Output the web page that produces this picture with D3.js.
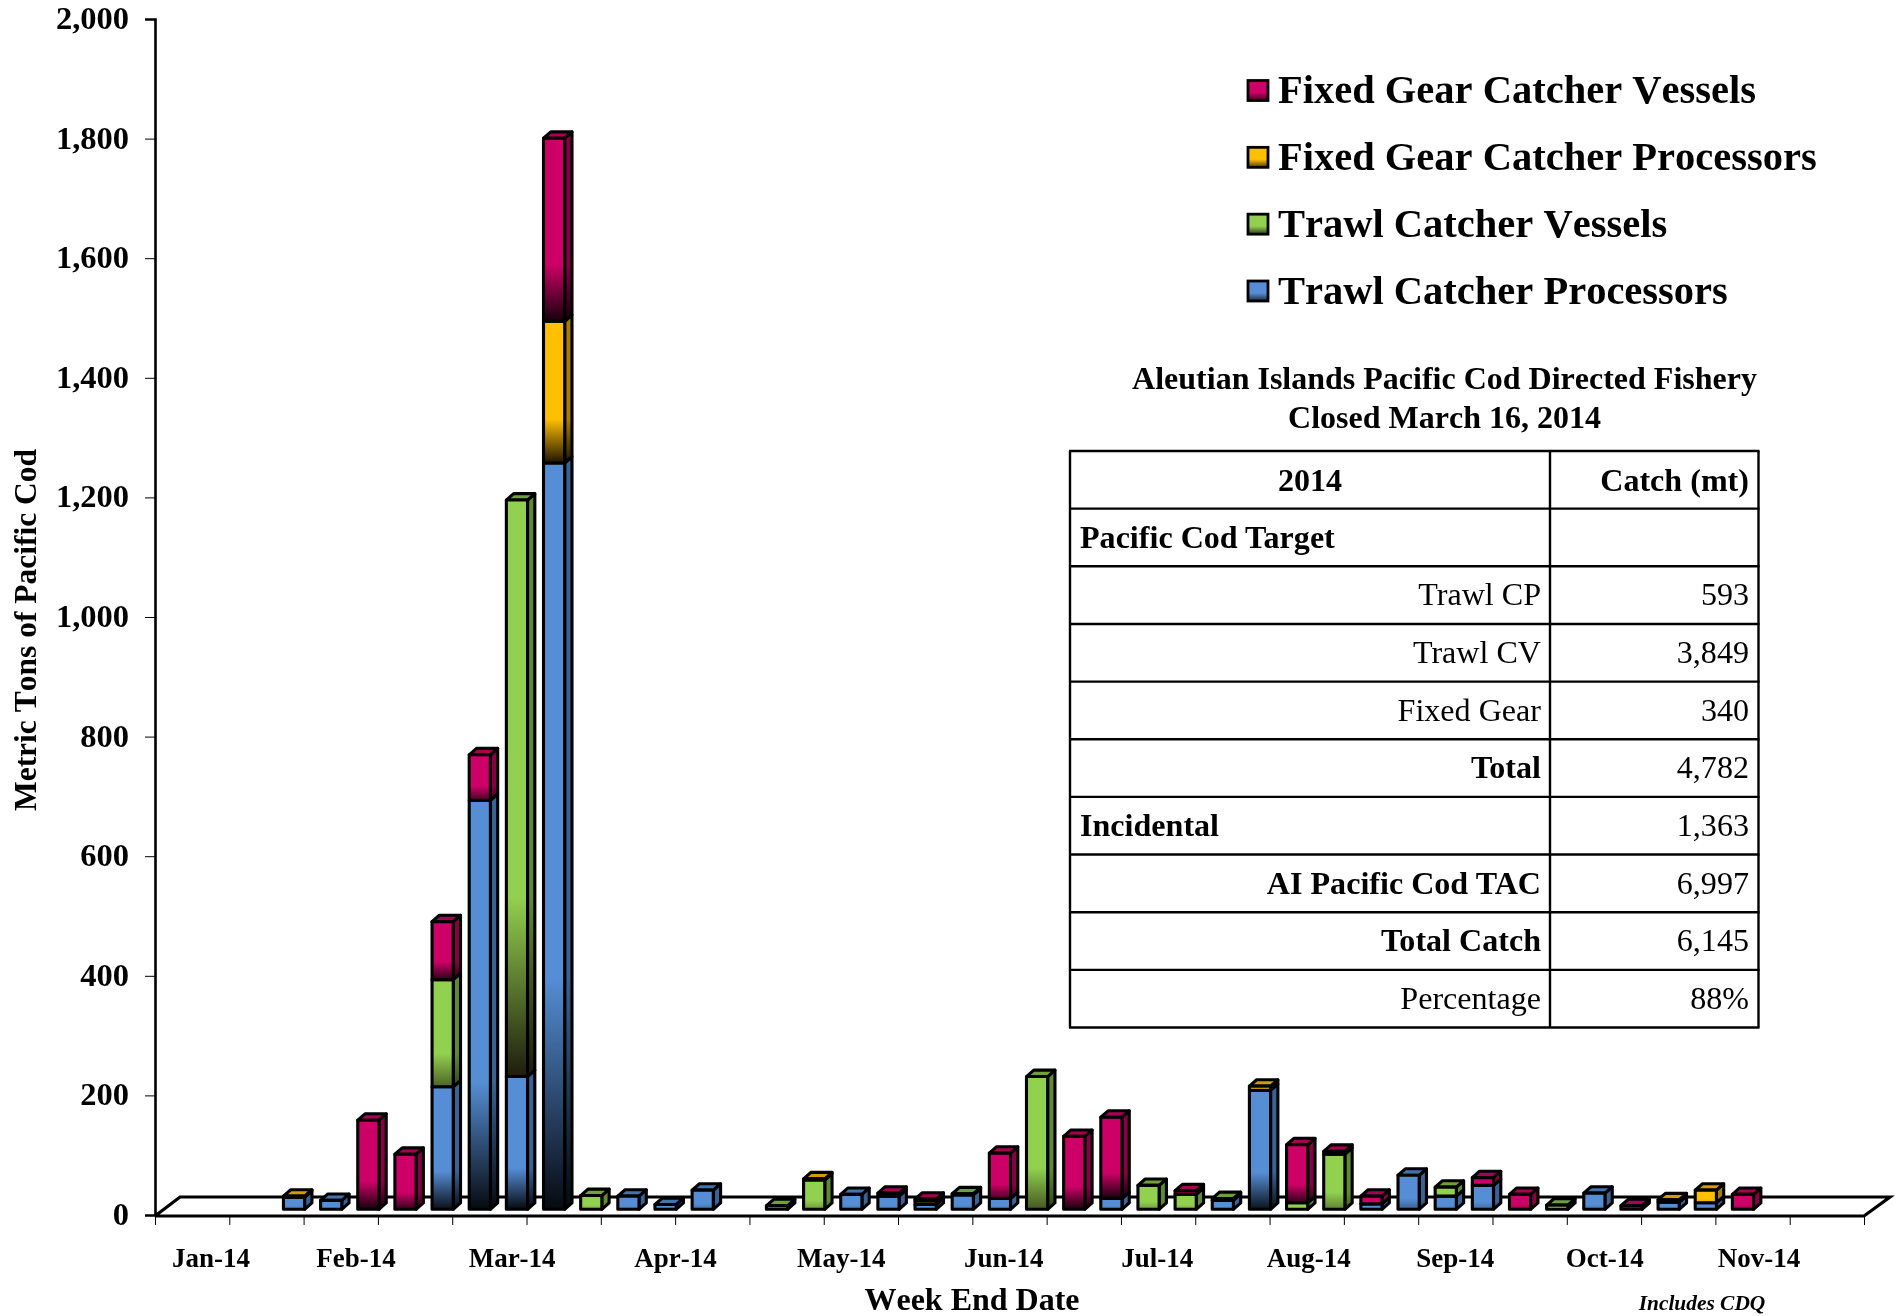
<!DOCTYPE html>
<html><head><meta charset="utf-8">
<script src="https://cdnjs.cloudflare.com/ajax/libs/d3/7.8.5/d3.min.js"></script>
<style>html,body{margin:0;padding:0;background:#fff;overflow:hidden}svg{display:block;filter:blur(.35px)}
text{font-family:"Liberation Serif",serif;fill:#000;font-kerning:none}text.kern{font-kerning:normal}</style></head><body><svg id="c" width="1896" height="1316"></svg>
<script>
const weekCount = 46;
const seriesKeys = ["Trawl Catcher Processors","Trawl Catcher Vessels","Fixed Gear Catcher Processors","Fixed Gear Catcher Vessels"];
const legendOrder = ["Fixed Gear Catcher Vessels","Fixed Gear Catcher Processors","Trawl Catcher Vessels","Trawl Catcher Processors"];
const trawlCP = [0,0,0,20,15,0,0,205,684,222,1248,0,22,8,32,0,0,0,25,22,8,24,18,0,0,18,0,0,15,199,0,0,9,57,22,40,0,0,27,0,12,11,0,0,0,0];
const trawlCV = [0,0,0,0,0,0,0,179,0,964,0,23,0,0,0,0,6,49,0,0,6,2,0,222,0,0,40,25,3,0,11,92,0,0,15,0,0,7,0,0,0,0,0,0,0,0];
const fixedCP = [0,0,0,2,0,0,0,0,0,0,237,0,0,0,0,0,0,2,0,0,0,0,0,0,0,0,0,0,0,7,0,0,0,0,0,0,0,0,0,0,4,21,0,0,0,0];
const fixedCV = [0,0,0,0,0,149,92,97,76,0,306,0,0,0,0,0,0,0,0,5,3,0,76,0,122,136,0,6,0,0,97,5,13,0,0,13,25,0,0,6,0,0,25,0,0,0];
const monthLabels = ["Jan-14","Feb-14","Mar-14","Apr-14","May-14","Jun-14","Jul-14","Aug-14","Sep-14","Oct-14","Nov-14"];
const monthCentres = ["2014-01-18T12:00Z","2014-02-14T18:00Z","2014-03-16T02:00Z","2014-04-15T18:00Z","2014-05-16T22:00Z","2014-06-16T10:00Z","2014-07-15T06:00Z","2014-08-12T17:00Z","2014-09-09T05:00Z","2014-10-07T07:00Z","2014-11-05T07:00Z"];
const yTicks = [0,200,400,600,800,1000,1200,1400,1600,1800,2000];
const tableTitle = ["Aleutian Islands Pacific Cod Directed Fishery","Closed March 16, 2014"];
const tableLabels = ["2014","Pacific Cod Target","Trawl CP","Trawl CV","Fixed Gear","Total","Incidental","AI Pacific Cod TAC","Total Catch","Percentage"];
const tableValues = ["Catch (mt)","","593","3,849","340","4,782","1,363","6,997","6,145","88%"];
const tableLabelStyle = ["hc","hl","r","r","r","hr","hl","hr","hr","r"];

const palette = {
 "Trawl Catcher Processors":{f:"#558ed5",s:"#3a6294",t:"#4474ae",H:130,P:.8,E:[6,10,16]},
 "Trawl Catcher Vessels":{f:"#92d050",s:"#5f8a34",t:"#70a03c",H:300,P:.5,E:[30,28,12]},
 "Fixed Gear Catcher Processors":{f:"#ffc000",s:"#a87e00",t:"#d49a00",H:120,P:.8,E:[30,20,0]},
 "Fixed Gear Catcher Vessels":{f:"#cc0066",s:"#880044",t:"#a80054",H:70,P:.8,E:[22,0,12]}
};
const dataBySeries = {[seriesKeys[0]]:trawlCP,[seriesKeys[1]]:trawlCV,[seriesKeys[2]]:fixedCP,[seriesKeys[3]]:fixedCV};
const rows = d3.range(weekCount).map(i=>{const o={i};seriesKeys.forEach(k=>o[k]=dataBySeries[k][i]);return o;});

const svg = d3.select("#c");
svg.append("rect").attr("width",1896).attr("height",1316).attr("fill","#fff");
const defs = svg.append("defs");
const leftX=155,rightX=1864,baseY=1216,zeroY=1215,topY=19,depthX=25,depthY=19;
const barDX=9,barDY=5.7,sideDX=7.3,sideDY=6.4;
const x = d3.scaleBand().domain(d3.range(weekCount)).range([leftX,rightX]).paddingInner(0.43).paddingOuter(0.215);
const y = d3.scaleLinear().domain([0,2000]).range([zeroY,topY]);
const t = d3.scaleTime().domain([new Date("2014-01-08T00:00Z"),new Date("2014-11-25T00:00Z")]).range([leftX,rightX]);
const sw=3.1;

// floor
svg.append("path").attr("fill","none").attr("stroke","#000").attr("stroke-width",3.2).attr("stroke-linejoin","miter")
 .attr("d",d3.line()([[leftX,baseY],[rightX,baseY],[rightX+depthX+1,baseY-depthY],[leftX+depthX,baseY-depthY],[leftX,baseY]]));

// axes
const yAxis = d3.axisLeft(y).tickValues(yTicks).tickSize(10).tickPadding(16).tickFormat(d3.format(","));
const gy = svg.append("g").attr("transform",`translate(${leftX},0)`).call(yAxis);
gy.select(".domain").attr("stroke-width",2.6);
gy.selectAll(".tick line").attr("stroke-width",1);
gy.selectAll("text").attr("font-size",32.5).attr("font-weight","bold").attr("font-family","Liberation Serif").attr("dy","0.29em");
const xTickAxis = d3.axisBottom(d3.scaleLinear().domain([0,46]).range([leftX,rightX])).tickValues(d3.range(0,47,2)).tickSize(9).tickFormat("");
const gx = svg.append("g").attr("transform",`translate(0,${baseY})`).call(xTickAxis);
gx.select(".domain").remove();
gx.selectAll(".tick line").attr("stroke-width",1);

// month labels
svg.selectAll(".mon").data(monthLabels).join("text").attr("class","mon")
 .attr("x",(d,i)=>t(new Date(monthCentres[i]))).attr("y",1266.5).attr("text-anchor","middle")
 .attr("font-size",27).attr("font-weight","bold").text(d=>d);

// bars
const stack = d3.stack().keys(seriesKeys)(rows);
const segs=[];
stack.forEach(layer=>layer.forEach(p=>{ if(p[1]>p[0]) segs.push({key:layer.key,i:p.data.i,y0:p[0],y1:p[1]}); }));
segs.sort((a,b)=>a.i-b.i||a.y0-b.y0);
const topOf={}; segs.forEach(s=>{topOf[s.i]=s;});
const darken=(key,h)=>{const p=palette[key];return Math.min(1,Math.pow(h/p.H,p.P));};
const mix=(c,E,a)=>d3.interpolateRgb(c,`rgb(${E})`)(a);
segs.forEach((s,n)=>{
  const p=palette[s.key];
  const X=x(s.i)+barDX, W=x.bandwidth(), Y1=y(s.y1)-barDY, Y0=y(s.y0)-barDY, H=Y0-Y1;
  const a=darken(s.key,H);
  ["f","s"].forEach(face=>{
    const g=defs.append("linearGradient").attr("id",`g${face}${n}`).attr("gradientUnits","userSpaceOnUse")
      .attr("x1",0).attr("x2",0).attr("y1",Y1).attr("y2",Y0);
    g.append("stop").attr("offset",0.69).attr("stop-color",p[face]);
    g.append("stop").attr("offset",1).attr("stop-color",mix(p[face],p.E,a));
  });
  const b=svg.append("g").attr("stroke","#000").attr("stroke-width",sw).attr("stroke-linejoin","round");
  b.append("path").attr("fill",`url(#gs${n})`)
    .attr("d",d3.line()([[X+W,Y0],[X+W+sideDX,Y0-sideDY],[X+W+sideDX,Y1-sideDY],[X+W,Y1]])+"Z");
  if(topOf[s.i]===s) b.append("path").attr("fill",p.t)
    .attr("d",d3.line()([[X,Y1],[X+sideDX,Y1-sideDY],[X+W+sideDX,Y1-sideDY],[X+W,Y1]])+"Z");
  b.append("rect").attr("x",X).attr("y",Y1).attr("width",W).attr("height",H).attr("fill",`url(#gf${n})`);
});

// titles
svg.append("text").attr("transform","translate(36,630) rotate(-90)").attr("text-anchor","middle")
 .attr("font-size",31.5).attr("font-weight","bold").text("Metric Tons of Pacific Cod");
svg.append("text").attr("x",972).attr("y",1309.5).attr("text-anchor","middle").attr("font-size",32).attr("font-weight","bold").text("Week End Date");
svg.append("text").attr("x",1702).attr("y",1310).attr("text-anchor","middle").attr("font-size",21.4).attr("font-weight","bold").attr("font-style","italic").text("Includes CDQ");

// legend
const ly=d3.scalePoint().domain(legendOrder).range([90.5,291]);
legendOrder.forEach(k=>{
  const p=palette[k],id="lg"+seriesKeys.indexOf(k);
  const g=defs.append("linearGradient").attr("id",id).attr("x1",0).attr("x2",0).attr("y1",0).attr("y2",1);
  g.append("stop").attr("offset",.6).attr("stop-color",p.f);
  g.append("stop").attr("offset",1).attr("stop-color",mix(p.f,[0,0,0],.7));
  svg.append("rect").attr("x",1248).attr("y",ly(k)-10).attr("width",20).attr("height",20).attr("fill",`url(#${id})`).attr("stroke","#000").attr("stroke-width",2.8);
  svg.append("text").attr("x",1278).attr("y",ly(k)+12.5).attr("font-size",40.5).attr("font-weight","bold").text(k);
});

// table
const tl=1070,tc=1550,tr=1758.5,tt=451,tb=1027.5;
const ry=d3.scaleLinear().domain([0,10]).range([tt,tb]);
tableTitle.forEach((s,i)=>svg.append("text").attr("x",1444.5).attr("y",389+i*38.5).attr("text-anchor","middle").attr("font-size",32).attr("font-weight","bold").text(s));
const ln=(a,b,c,d)=>svg.append("line").attr("x1",a).attr("y1",b).attr("x2",c).attr("y2",d).attr("stroke","#000").attr("stroke-width",2.4);
d3.range(11).forEach(i=>ln(tl-1,ry(i),tr+1,ry(i)));
[tl,tc,tr].forEach(v=>ln(v,tt,v,tb));
tableLabels.forEach((s,i)=>{
  const st=tableLabelStyle[i],yy=ry(i)+39;
  const e=svg.append("text").attr("class","kern").attr("y",yy+(i===0?1:0)).attr("font-size",32.1).text(s);
  if(st[0]==="h") e.attr("font-weight","bold");
  if(st==="hc") e.attr("x",(tl+tc)/2).attr("text-anchor","middle");
  else if(st==="hl") e.attr("x",1080);
  else e.attr("x",1541).attr("text-anchor","end");
  const v=svg.append("text").attr("class","kern").attr("x",1749).attr("y",yy+(i===0?1:0)).attr("text-anchor","end").attr("font-size",32.1).text(tableValues[i]);
  if(i===0) v.attr("font-weight","bold");
});
</script></body></html>
